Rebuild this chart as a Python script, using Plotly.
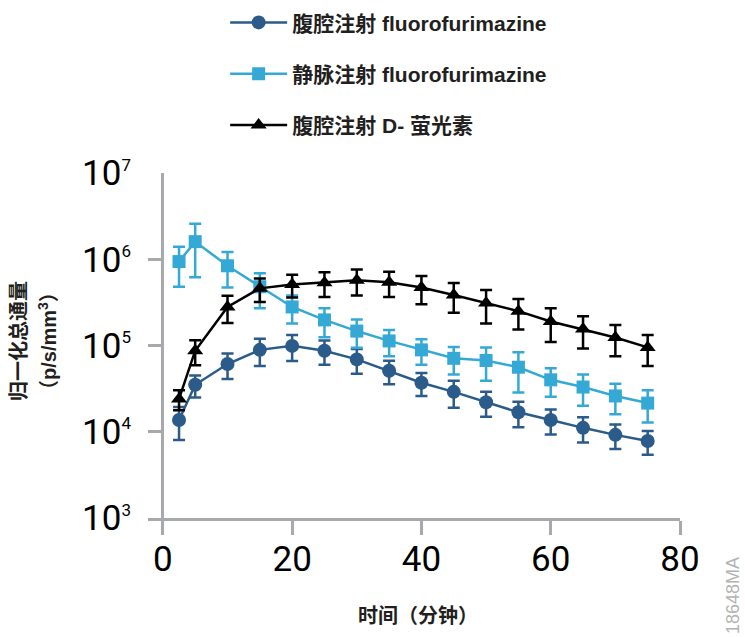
import plotly.graph_objects as go

# ---- data ----
times = [2.5, 5, 10, 15, 20, 25, 30, 35, 40, 45, 50, 55, 60, 65, 70, 75]

ip_ffz = [1.37e4, 3.5e4, 6.1e4, 8.9e4, 9.9e4, 8.7e4, 6.9e4, 5.1e4, 3.7e4, 2.9e4,
          2.2e4, 1.68e4, 1.37e4, 1.11e4, 9.2e3, 7.8e3]
ip_ffz_err = [5.7e3, 1.0e4, 2.0e4, 3.1e4, 3.3e4, 2.7e4, 2.2e4, 1.55e4, 1.1e4, 1.0e4,
              7.1e3, 5.5e3, 4.4e3, 3.6e3, 2.9e3, 2.4e3]

iv_ffz = [9.4e5, 1.6e6, 8.4e5, 4.8e5, 2.8e5, 1.98e5, 1.47e5, 1.13e5, 8.9e4, 7.1e4,
          6.7e4, 5.6e4, 4.0e4, 3.3e4, 2.6e4, 2.15e4]
iv_ffz_err = [4.6e5, 9.8e5, 3.7e5, 2.1e5, 1.0e5, 7.3e4, 5.3e4, 3.8e4, 2.9e4, 2.5e4,
              2.8e4, 2.75e4, 1.45e4, 1.3e4, 1.0e4, 8.7e3]

ip_luc = [2.4e4, 8.7e4, 2.8e5, 4.6e5, 5.1e5, 5.35e5, 5.7e5, 5.4e5, 4.7e5, 3.85e5,
          3.1e5, 2.5e5, 1.9e5, 1.55e5, 1.24e5, 9.5e4]
ip_luc_err = [6.2e3, 2.8e4, 9.8e4, 1.4e5, 1.5e5, 1.7e5, 1.9e5, 1.75e5, 1.7e5, 1.45e5,
              1.3e5, 9.7e4, 8.0e4, 6.3e4, 4.9e4, 3.7e4]

series_names = ["腹腔注射 fluorofurimazine", "静脉注射 fluorofurimazine", "腹腔注射 D- 萤光素"]

x_tickvals = [0, 20, 40, 60, 80]
y_tickvals = [1e3, 1e4, 1e5, 1e6, 1e7]
y_exponents = ["3", "4", "5", "6", "7"]

x_title = "时间（分钟）"
y_title_line1 = "归一化总通量"
y_title_line2 = "（p/s/mm<sup>3</sup>）"
watermark = "18648MA"

# ---- styling ----
C_DARK = "#2a5b8a"
C_LIGHT = "#35a9d5"
C_BLACK = "#000000"
AXIS = "#a7a9ac"
TEXT = "#231f20"
TICKFONT = "Roboto, Liberation Sans, sans-serif"
LABFONT = "Liberation Sans, Noto Sans CJK SC, sans-serif"

fig = go.Figure()

specs = [
    (ip_ffz, ip_ffz_err, C_DARK, "circle", 14),
    (iv_ffz, iv_ffz_err, C_LIGHT, "square", 13),
    (ip_luc, ip_luc_err, C_BLACK, "triangle-up", 14),
]
for i, (vals, errs, col, sym, sz) in enumerate(specs):
    fig.add_trace(go.Scatter(
        x=times, y=vals, name=series_names[i], mode="lines+markers",
        legendgroup=f"g{i}",
        line=dict(color=col, width=2.5),
        marker=dict(symbol=sym, size=sz, color=col, line=dict(width=0)),
        error_y=dict(type="data", array=errs, visible=True, color=col,
                     thickness=2.5, width=6),
    ))

fig.update_layout(
    width=745, height=637,
    margin=dict(l=148, r=65, t=173, b=119, autoexpand=False),
    plot_bgcolor="white", paper_bgcolor="white",
    showlegend=True,
    legend=dict(x=0.145, y=1.495, xanchor="left", yanchor="top",
                font=dict(family=LABFONT, size=21, color=TEXT, weight="bold"),
                itemwidth=57, tracegroupgap=21, bgcolor="rgba(0,0,0,0)"),
    xaxis=dict(range=[-2.3, 80], tickvals=x_tickvals, showgrid=False,
               showline=True, linecolor=AXIS, linewidth=3,
               zeroline=True, zerolinecolor=AXIS, zerolinewidth=3,
               ticks="outside", ticklen=14, tickwidth=3, tickcolor=AXIS,
               tickfont=dict(family=TICKFONT, size=35, color="#000"),
               ticklabelstandoff=-6, automargin=False),
    yaxis=dict(type="log", range=[3, 7], tickvals=y_tickvals,
               ticktext=[f"10<sup><span style='font-size:17px'>{e}</span></sup>" for e in y_exponents],
               showgrid=False, showline=False, zeroline=False,
               ticks="inside", ticklen=15, tickwidth=3, tickcolor=AXIS,
               tickfont=dict(family=TICKFONT, size=35, color="#000"),
               ticklabelstandoff=16, automargin=False),
)

ann_font = dict(family=LABFONT, size=20, color=TEXT, weight="bold")
fig.add_annotation(text=x_title, xref="paper", yref="paper", x=(418 - 148) / 532,
                   y=(518 - 616) / 345, xanchor="center", yanchor="middle",
                   showarrow=False, font=ann_font)
fig.add_annotation(text=y_title_line1, xref="paper", yref="paper", x=(19 - 148) / 532,
                   y=(518 - 341) / 345, xanchor="center", yanchor="middle", textangle=-90,
                   showarrow=False, font=ann_font)
fig.add_annotation(text=y_title_line2, xref="paper", yref="paper", x=(47 - 148) / 532,
                   y=(518 - 341) / 345, xanchor="center", yanchor="middle", textangle=-90,
                   showarrow=False, font=ann_font)
fig.add_annotation(text=watermark, xref="paper", yref="paper", x=(733 - 148) / 532,
                   y=(518 - 596) / 345, xanchor="center", yanchor="middle", textangle=-90,
                   showarrow=False, font=dict(family="Liberation Sans, sans-serif", size=18, color="#b3b3b3"))

fig.write_html("out.html", config={"displayModeBar": False},
               post_script="document.body.style.margin='0';document.body.style.overflow='hidden';")
